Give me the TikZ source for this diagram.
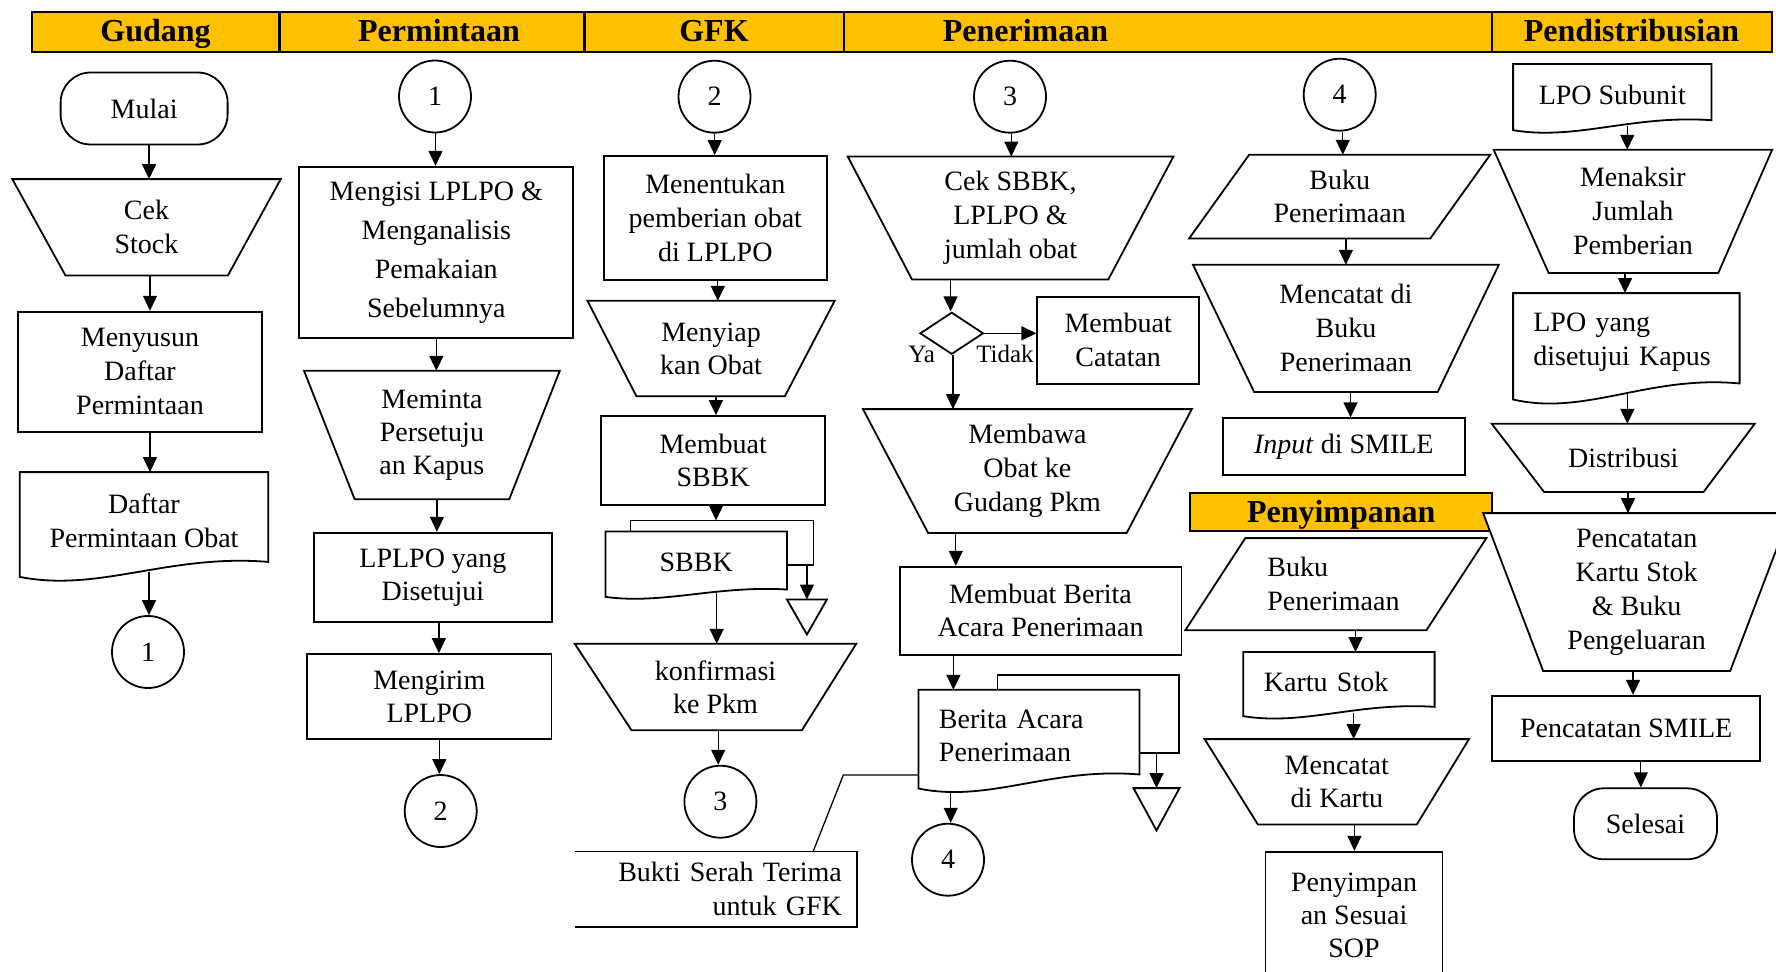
\documentclass[tikz,border=0pt]{standalone}
\usepackage{fontspec}
\setmainfont{Liberation Serif}
\usetikzlibrary{arrows.meta,calc,shapes.geometric,backgrounds}
\definecolor{hdr}{HTML}{FFC000}
\newcommand\fs{\fontsize{28pt}{34pt}\selectfont}
\newcommand\fsb{\fontsize{28pt}{39pt}\selectfont}
\newcommand\fsc{\fontsize{28pt}{33pt}\selectfont}
\newcommand\fsh{\fontsize{32pt}{38pt}\selectfont\bfseries}
\newcommand\fsl{\fontsize{25pt}{30pt}\selectfont}
\tikzset{
 nd/.style={inner sep=0pt, align=center, font=\fs},
 sz/.style 2 args={minimum width=#1pt, minimum height=#2pt},
 bx/.style={draw, line width=1.8pt},
 shp/.style={draw, line width=1.8pt, fill=white},
 circ/.style={circle, draw, line width=1.8pt, minimum size=72pt, inner sep=0pt, font=\fs},
 term/.style={draw, line width=1.8pt, rounded corners=30pt},
 arr/.style={line width=1.3pt, -{Triangle[length=15pt,width=14pt]}},
 hlab/.style={anchor=base, font=\fsh, inner sep=0pt},
}
\newcommand\trapz[3]{\draw[shp] (#1.north west) -- (#1.north east) -- ($(#1.south east)+(-#3,0)$) -- ($(#1.south west)+(#2,0)$) -- cycle;}
\newcommand\parlg[2]{\draw[shp] ($(#1.north west)+(#2,0)$) -- (#1.north east) -- ($(#1.south east)+(-#2,0)$) -- (#1.south west) -- cycle;}
\newcommand\mkdoc[2]{\draw[shp] (#1.north west) -- (#1.north east) -- ($(#1.south east)+(0,-#2)$) .. controls ($(#1.south east)!0.4!(#1.south west)+(0,-2.1*#2)$) and ($(#1.south west)!0.32!(#1.south east)+(0,3.1*#2)$) .. ($(#1.south west)+(0,#2)$) -- cycle;}
\newcommand\myva[3][0]{\path ($(#2.south)+(#1,0)$) coordinate (tmp); \draw[arr] (tmp) -- (tmp |- #3.north);}
\newcommand\myvd[4]{\path ($(#3.south)+(#1,#2)$) coordinate (tmp); \draw[arr] (tmp) -- (tmp |- #4.north);}
\begin{document}
\begin{tikzpicture}[x=1pt,y=-1pt]
\useasboundingbox (0,0) rectangle (1776,971);
\clip (0,0) rectangle (1776,971);

% header
\draw[line width=2.2pt, fill=hdr] (31.8,12) rectangle (1772,52);
\foreach \x in {279.4,584.4,844,1492} \draw[line width=2.2pt] (\x,12) -- (\x,52);
\node[hlab] (hG) at (155.6,41.5) {Gudang};
\node[hlab] (hP) at (439,41.5) {Permintaan};
\node[hlab] (hF) at (714,41.5) {GFK};
\node[hlab] (hR) at (1025.5,41.5) {Penerimaan};
\node[hlab] (hD) at (1631.5,41.5) {Pendistribusian};

% column Gudang
\node[term, nd, sz={167}{72}] (mulai) at (144.1,108.5) {Mulai};
\node[nd, sz={268}{96}] (cek) at (146.5,227.3) {Cek\\Stock};
\node[nd, bx, sz={244}{120}] (menyusun) at (140,371.7) {Menyusun\\Daftar\\Permintaan};
\node[nd, sz={248}{96.9}] (daftar) at (144,520.75) {Daftar\\Permintaan Obat};
\node[circ] (c1a) at (148,652) {1};

% column Permintaan
\node[circ] (c1b) at (435,96.5) {1};
\node[nd, bx, sz={274}{171.6}, font=\fsb] (mengisi) at (436.3,252.5) {Mengisi LPLPO \&\\Menganalisis\\Pemakaian\\Sebelumnya};
\node[nd, sz={255.3}{128}, font=\fsc] (meminta) at (431.9,435) {Meminta\\Persetuju\\an Kapus};
\node[nd, bx, sz={238}{89.6}, font=\fsc] (lplpoS) at (432.9,577.5) {LPLPO yang\\Disetujui};
\node[nd, bx, sz={244.5}{85.3}, font=\fsc] (mengirim) at (429.3,696.7) {Mengirim\\LPLPO};
\node[circ] (c2a) at (440.7,811) {2};

% column GFK
\node[circ] (c2b) at (714.5,96.7) {2};
\node[nd, bx, sz={223}{124}] (menentukan) at (715.3,218) {Menentukan\\pemberian obat\\di LPLPO};
\node[nd, sz={246.8}{95}, font=\fsc] (menyiapkan) at (711.1,348.5) {Menyiap\\kan Obat};
\node[nd, bx, sz={224.3}{89.3}, font=\fsc] (membuatS) at (713.2,460.7) {Membuat\\SBBK};
\node[nd, sz={181}{61.3}] (sbbk) at (696.2,562.35) {SBBK};
\node[nd, sz={281}{86}, font=\fsc] (konfirm) at (715.5,687) {konfirmasi\\ke Pkm};
\node[circ] (c3a) at (720.4,801.7) {3};
\node[nd, sz={281.7}{75}, text width=252pt, align=right] (bukti) at (715.85,889.2) {Bukti Serah Terima\\untuk GFK};

% column Penerimaan (left)
\node[circ] (c3b) at (1010,96.7) {3};
\node[nd, sz={325.3}{122.6}] (ceksbbk) at (1010.55,218) {Cek SBBK,\\LPLPO \&\\jumlah obat};
\node[diamond, draw, line width=1.8pt, inner sep=0pt, minimum width=63.4pt, minimum height=42pt] (dia) at (951.7,333.3) {};
\node[nd, bx, sz={161.7}{87.3}] (catatan) at (1118.2,340.3) {Membuat\\Catatan};
\node[nd, font=\fsl] (ya) at (921.7,354) {Ya};
\node[nd, font=\fsl] (tidak) at (1005,354) {Tidak};
\node[nd, sz={328.4}{123.4}] (membawa) at (1027.4,471) {Membawa\\Obat ke\\Gudang Pkm};
\node[nd, bx, sz={281.8}{88.3}, font=\fsc] (membuatBA) at (1040.5,610.85) {Membuat Berita\\Acara Penerimaan};
\node[nd, sz={220.7}{91.3}, text width=180pt, align=left, font=\fsc] (berita) at (1028.95,735.65) {Berita Acara\\Penerimaan};
\node[circ] (c4a) at (948,859.7) {4};

% column Penerimaan (right) / Penyimpanan
\node[circ] (c4b) at (1339.7,94.7) {4};
\node[nd, sz={300.7}{83.3}, font=\fsc] (buku1) at (1339.65,196.65) {Buku\\Penerimaan};
\node[nd, sz={305.4}{126.7}] (mencatat1) at (1345.9,328.35) {Mencatat di\\Buku\\Penerimaan};
\node[nd, bx, sz={241.6}{57}] (input) at (1343.8,446.8) {\textit{Input} di SMILE};
\node[nd, sz={301.5}{37.5}] (penyHdr) at (1341.25,511.75) {};
\node[hlab] (penyLab) at (1341.25,522.5) {Penyimpanan};
\node[nd, sz={300.7}{91.7}, text width=137pt, align=left] (buku2) at (1335.85,584.15) {Buku\\Penerimaan};
\node[nd, sz={191}{59.05}, text width=150pt, align=left] (kartu) at (1338.9,681.8) {Kartu Stok};
\node[nd, sz={264}{85}, font=\fsc] (mencatat2) at (1336.8,781.8) {Mencatat\\di Kartu};
\node[nd, bx, sz={177}{128}, font=\fsc] (penyS) at (1354,915.7) {Penyimpan\\an Sesuai\\SOP};

% column Pendistribusian
\node[nd, sz={197.9}{60.7}] (lposub) at (1612.25,94.65) {LPO Subunit};
\node[nd, sz={278}{122.7}] (menaksir) at (1632.9,211.35) {Menaksir\\Jumlah\\Pemberian};
\node[nd, sz={226.1}{98}, text width=186pt, align=left] (lpoyang) at (1626.35,342.3) {LPO yang\\disetujui Kapus};
\node[nd, sz={262.5}{67.7}] (distribusi) at (1623.25,457.85) {Distribusi};
\node[nd, sz={306.7}{157.4}] (pencatatan) at (1636.65,592) {Pencatatan\\Kartu Stok\\\& Buku\\Pengeluaran};
\node[nd, bx, sz={268.3}{65.3}] (smile) at (1626.15,728.35) {Pencatatan SMILE};
\node[term, nd, sz={143}{71}] (selesai) at (1645.5,823.8) {Selesai};

% helper coordinates
\coordinate (sbbkTop) at ($(sbbk.north)+(19.8,-11)$);
\coordinate (sbbkBB) at ($(sbbk.north east)+(20,33.3)$);
\coordinate (t1) at ($(sbbk.north east)+(20,68)$);
\coordinate (berBB) at ($(berita.north east)+(17,63.3)$);
\coordinate (t2) at ($(berita.north east)+(17,98.3)$);
\coordinate (annA) at (843.3,775);

\begin{pgfonlayer}{background}
 \fill[white] (0,0) rectangle (1776,971);
 \trapz{cek}{53.2}{52.8}
 \mkdoc{daftar}{7.5}
 \trapz{meminta}{50.6}{50.5}
 \trapz{menyiapkan}{48.9}{49.8}
 \draw[line width=1.8pt] ($(sbbk.north west)+(25,0)$) -- ++(0,-11) -| ($(sbbk.north east)+(26.6,33.3)$) -- ++(-26.6,0);
 \mkdoc{sbbk}{3.7}
 \draw[shp] ($(t1)+(-20,0)$) -- ($(t1)+(20,0)$) -- ($(t1)+(0,35)$) -- cycle;
 \trapz{konfirm}{56.7}{54.3}
 \draw[line width=1.8pt] (bukti.north west) -- (bukti.north east) -- (bukti.south east) -- (bukti.south west);
 \trapz{ceksbbk}{64.3}{65.1}
 \trapz{membawa}{65.1}{65.1}
 \draw[line width=1.8pt] ($(berita.north west)+(79.1,0)$) -- ++(0,-15) -| ($(berita.north east)+(39.5,63.3)$) -- ++(-39.5,0);
 \mkdoc{berita}{7}
 \draw[shp] ($(t2)+(-23,0)$) -- ($(t2)+(23,0)$) -- ($(t2)+(0,42.4)$) -- cycle;
 \parlg{buku1}{60}
 \trapz{mencatat1}{61.1}{61.1}
 \draw[line width=2pt, fill=hdr] (penyHdr.north west) rectangle (penyHdr.south east);
 \parlg{buku2}{60}
 \mkdoc{kartu}{4.65}
 \trapz{mencatat2}{53.3}{52.2}
 \mkdoc{lposub}{5}
 \trapz{menaksir}{54.9}{53.8}
 \mkdoc{lpoyang}{8}
 \trapz{distribusi}{52.2}{51.1}
 \trapz{pencatatan}{60}{60}
\end{pgfonlayer}

% connectors: Gudang
\myva[5]{mulai}{cek}
\myva[3.5]{cek}{menyusun}
\myva[10]{menyusun}{daftar}
\myvd{5}{2.5}{daftar}{c1a}
% Permintaan
\myva[0.5]{c1b}{mengisi}
\myva{mengisi}{meminta}
\myva[5]{meminta}{lplpoS}
\myva[6]{lplpoS}{mengirim}
\myva[10]{mengirim}{c2a}
% GFK
\myva[0.2]{c2b}{menentukan}
\myva[2.5]{menentukan}{menyiapkan}
\myva[4.8]{menyiapkan}{membuatS}
\draw[arr] (membuatS.south -| sbbkTop) -- (sbbkTop);
\myvd{20.5}{-1}{sbbk}{konfirm}
\draw[arr] (sbbkBB) -- (t1);
\myva[2.7]{konfirm}{c3a}
% Penerimaan
\myva[1.3]{c3b}{ceksbbk}
\myva[-60]{ceksbbk}{dia}
\draw[arr] (dia.east) -- (dia.east -| catatan.west);
\myva[1.3]{dia}{membawa}
\myva[-71.6]{membawa}{membuatBA}
\myva[-87.1]{membuatBA}{berita}
\draw[arr] (berBB) -- (t2);
\myvd{-78.25}{10}{berita}{c4a}
\draw[line width=1.3pt] ($(bukti.north west)+(238.3,0)$) -- (annA) -- (annA -| berita.west);
\myva[3.1]{c4b}{buku1}
\myva[6.25]{buku1}{mencatat1}
\myva[4.6]{mencatat1}{input}
% Penyimpanan
\myva[19.65]{buku2}{kartu}
\myvd{14.7}{1}{kartu}{mencatat2}
\myva[17.6]{mencatat2}{penyS}
% Pendistribusian
\myvd{15}{1}{lposub}{menaksir}
\myva[-7.9]{menaksir}{lpoyang}
\myvd{1}{2.5}{lpoyang}{distribusi}
\myva[4.75]{distribusi}{pencatatan}
\myva[-3.65]{pencatatan}{smile}
\myva[14.65]{smile}{selesai}
\end{tikzpicture}
\end{document}
